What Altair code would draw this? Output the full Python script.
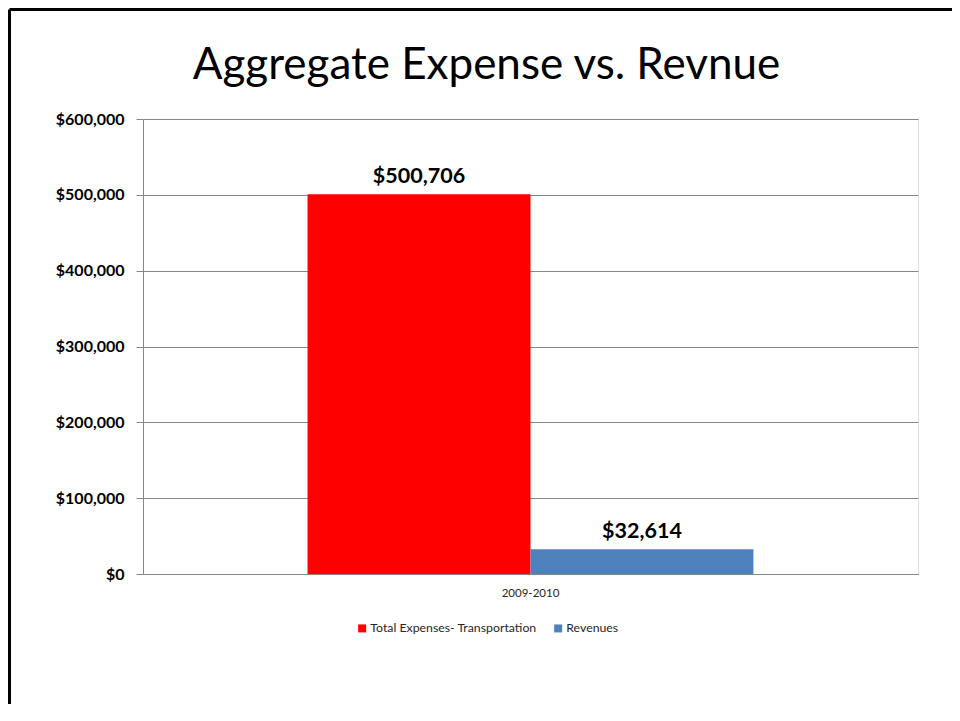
import altair as alt
import pandas as pd

categories = ["2009-2010", "2009-2010"]
series = ["Total Expenses- Transportation", "Revenues"]
values = [500706, 32614]
colors = ["#FF0000", "#4F81BD"]
y_ticks = [0, 100000, 200000, 300000, 400000, 500000, 600000]

df = pd.DataFrame({"period": categories, "series": series, "value": values})
df["label"] = df["value"].map(lambda v: f"${v:,.0f}")

W, H = 775, 455
FONT = "Lato"
GRAY = "#868686"

x_enc = alt.X(
    "period:N",
    title=None,
    scale=alt.Scale(paddingInner=0, paddingOuter=0.369),
    axis=alt.Axis(labelAngle=0, labelFont=FONT, labelFontSize=11.5, labelColor="#262626",
                  labelPadding=13, ticks=False, grid=False, domainColor=GRAY),
)
xoff = alt.XOffset("series:N", sort=series, scale=alt.Scale(paddingInner=0, paddingOuter=0))
y_enc = alt.Y(
    "value:Q",
    title=None,
    scale=alt.Scale(domain=[0, 600000]),
    axis=alt.Axis(values=y_ticks, format="$,.0f", labelFont=FONT, labelFontSize=16,
                  labelFontWeight="bold", labelColor="black", tickSize=7, tickColor=GRAY,
                  domainColor=GRAY, gridColor=GRAY, labelPadding=12),
)

base = alt.Chart(df)

bars = base.mark_bar().encode(
    x=x_enc,
    xOffset=xoff,
    y=y_enc,
    color=alt.Color(
        "series:N",
        sort=series,
        scale=alt.Scale(domain=series, range=colors),
        legend=alt.Legend(orient="none", legendX=213, legendY=503, direction="horizontal",
                          title=None, symbolType="square", symbolSize=64, symbolStrokeWidth=0,
                          labelFont=FONT, labelFontSize=12.3, labelColor="#262626",
                          labelLimit=400, columnPadding=15, labelOffset=2),
    ),
)

labels = base.mark_text(font=FONT, fontSize=21.5, fontWeight="bold", baseline="alphabetic",
                        dy=-11, color="black").encode(
    x=x_enc, xOffset=xoff, y=y_enc, text="label:N"
)

frame_df = pd.DataFrame({"k": [0]})
top_border = alt.Chart(frame_df).mark_rule(color="black", strokeWidth=3).encode(
    x=alt.value(-133.5), x2=alt.value(900), y=alt.value(-109.5)
)
left_border = alt.Chart(frame_df).mark_rule(color="black", strokeWidth=3).encode(
    x=alt.value(-133.5), y=alt.value(-109.5), y2=alt.value(700)
)

chart = alt.layer(bars, labels, top_border, left_border).properties(
    width=W,
    height=H,
    title=alt.TitleParams("Aggregate Expense vs. Revnue", font=FONT, fontSize=44,
                          fontWeight="normal", color="black", anchor="middle", dx=-44,
                          baseline="alphabetic", offset=-115),
    autosize=alt.AutoSizeParams(type="none"),
    padding={"left": 135, "top": 111, "right": 34, "bottom": 130},
).configure_view(stroke="white", strokeOpacity=0, strokeWidth=0).configure(background="white")

chart.save("out.html", embed_options={"renderer": "svg", "actions": False})
